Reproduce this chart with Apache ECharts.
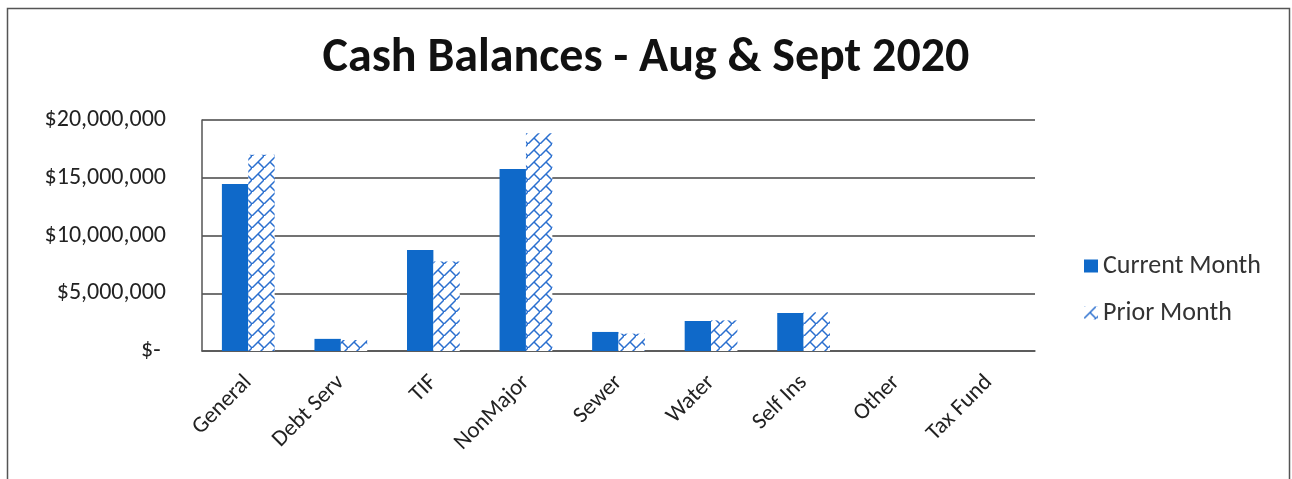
<!DOCTYPE html>
<html>
<head>
<meta charset="utf-8">
<script src="https://cdn.jsdelivr.net/npm/echarts@6/dist/echarts.min.js"></script>
<style>
  html, body { margin: 0; padding: 0; background: #fff; }
  #chart { width: 1292px; height: 479px; }
</style>
</head>
<body>
<div id="chart"></div>
<script>
const categories = ['General', 'Debt Serv', 'TIF', 'NonMajor', 'Sewer', 'Water', 'Self Ins', 'Other', 'Tax Fund']
const currentMonth = [14450000, 1050000, 8750000, 15750000, 1650000, 2600000, 3300000, 0, 0]
const priorMonth = [17000000, 950000, 7750000, 18850000, 1500000, 2650000, 3350000, 0, 0]
const yTicks = [0, 5000000, 10000000, 15000000, 20000000]

const FONT = 'Carlito, Lato, sans-serif'
const BLUE = '#0f69c9'
const HATCH = '#2a6fcf'

// diagonal brick pattern for the prior month bars
function makeHatch() {
  const s = 12
  const c = document.createElement('canvas')
  c.width = s
  c.height = s
  const ctx = c.getContext('2d')
  ctx.fillStyle = '#fff'
  ctx.fillRect(0, 0, s, s)
  ctx.strokeStyle = HATCH
  ctx.lineWidth = 1.5
  ctx.beginPath()
  ctx.moveTo(-1, s + 1)
  ctx.lineTo(s + 1, -1)
  ctx.moveTo(s / 2, s / 2)
  ctx.lineTo(s, s)
  ctx.stroke()
  return c
}

const hatch = { image: makeHatch(), repeat: 'repeat' }

const chart = echarts.init(document.getElementById('chart'))

chart.setOption({
  animation: false,
  backgroundColor: '#fff',
  title: {
    text: 'Cash Balances - Aug & Sept 2020',
    left: 'center',
    top: 30,
    textStyle: { fontFamily: FONT, fontSize: 48, fontWeight: 'bold', color: '#111' }
  },
  graphic: [{
    type: 'rect',
    shape: { x: 7.5, y: 8.5, width: 1282, height: 500 },
    style: { fill: null, stroke: '#555', lineWidth: 1.5 },
    silent: true
  }],
  legend: {
    orient: 'vertical',
    left: 1079,
    top: 248,
    itemWidth: 14,
    itemHeight: 13,
    itemGap: 21,
    icon: 'rect',
    textStyle: { fontFamily: FONT, fontSize: 26, color: '#333' },
    data: [
      { name: 'Current Month', itemStyle: { color: BLUE } },
      { name: 'Prior Month', itemStyle: { color: hatch, borderColor: 'transparent' } }
    ]
  },
  grid: { left: 202, right: 257, top: 120, bottom: 128 },
  xAxis: {
    type: 'category',
    data: categories,
    axisLine: { lineStyle: { color: '#555', width: 1.5 } },
    axisTick: { show: false },
    axisLabel: {
      interval: 0,
      rotate: 45,
      margin: 28,
      fontFamily: FONT,
      fontSize: 23,
      color: '#222'
    }
  },
  yAxis: {
    type: 'value',
    min: yTicks[0],
    max: yTicks[yTicks.length - 1],
    interval: yTicks[1] - yTicks[0],
    axisLine: { show: true, lineStyle: { color: '#555', width: 1.5 } },
    axisTick: { show: false },
    splitLine: { lineStyle: { color: '#444', width: 1.5 } },
    axisLabel: {
      margin: 36,
      fontFamily: FONT,
      fontSize: 24,
      color: '#222',
      formatter: v => v === 0 ? '$- ' : '$' + v.toLocaleString('en-US')
    }
  },
  series: [
    {
      name: 'Current Month',
      type: 'bar',
      data: currentMonth,
      barGap: '0%',
      barCategoryGap: '43%',
      itemStyle: { color: BLUE }
    },
    {
      name: 'Prior Month',
      type: 'bar',
      data: priorMonth,
      itemStyle: { color: hatch }
    }
  ]
})

window.addEventListener('resize', () => chart.resize())
</script>
</body>
</html>
